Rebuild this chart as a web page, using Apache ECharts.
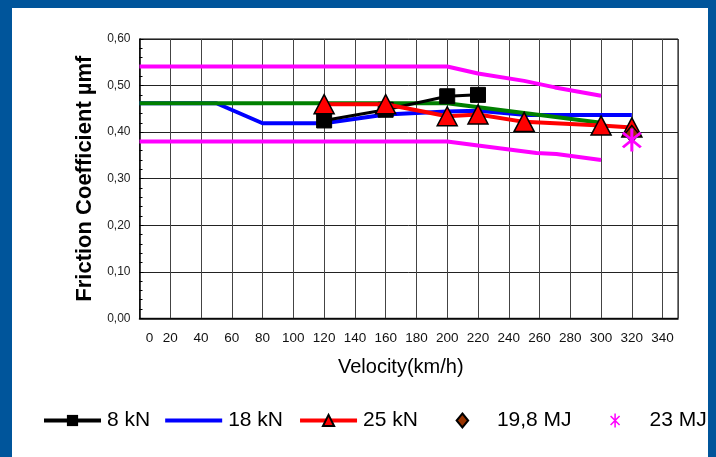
<!DOCTYPE html>
<html>
<head>
<meta charset="utf-8">
<script src="https://cdn.jsdelivr.net/npm/echarts@6/dist/echarts.min.js"></script>
<style>
  html, body { margin: 0; padding: 0; }
  #wrap { position: relative; width: 716px; height: 457px; background: #00559b; overflow: hidden; }
  #paper { position: absolute; left: 12px; top: 8px; width: 696px; height: 449px; background: #ffffff; }
  #chart { position: absolute; left: 0; top: 0; width: 716px; height: 457px; }
</style>
</head>
<body>
<div id="wrap"><div id="paper"></div><div id="chart"></div></div>
<script>
// ---- data (velocity km/h, friction coefficient) ----
const xTicks = [0, 20, 40, 60, 80, 100, 120, 140, 160, 180, 200, 220, 240, 260, 280, 300, 320, 340];
const yTicks = [0, 0.1, 0.2, 0.3, 0.4, 0.5, 0.6];

const upperBoundV = [0, 200, 220, 250, 270, 300];
const upperBoundMu = [0.541, 0.541, 0.526, 0.510, 0.496, 0.478];

const lowerBoundV = [0, 200, 220, 258, 271, 300];
const lowerBoundMu = [0.380, 0.380, 0.371, 0.355, 0.353, 0.340];

const nominalV = [0, 200, 300];
const nominalMu = [0.462, 0.462, 0.420];

const kN18V = [0, 50, 80, 120, 160, 200, 220, 250, 320];
const kN18Mu = [0.462, 0.462, 0.419, 0.419, 0.438, 0.444, 0.446, 0.437, 0.437];

const kN8V = [120, 160, 200, 220];
const kN8Mu = [0.425, 0.448, 0.477, 0.480];

const kN25V = [120, 160, 200, 220, 250, 300, 320];
const kN25Mu = [0.460, 0.460, 0.434, 0.438, 0.422, 0.414, 0.410];

const mj198V = [320];
const mj198Mu = [0.396];

const mj23V = [320];
const mj23Mu = [0.383];

const legendNames = ['8 kN', '18 kN', '25 kN', '19,8 MJ', '23 MJ'];

const zip = (xs, ys) => xs.map((x, i) => [x, ys[i]]);

const asteriskBody = 'M6.22,7.92 L7.92,6.22 L-6.22,-7.92 L-7.92,-6.22 Z ' +
                     'M7.92,-6.22 L6.22,-7.92 L-7.92,6.22 L-6.22,7.92 Z ' +
                     'M-1.2,-11 L-1.2,11 L1.2,11 L1.2,-11 Z';
const diamondBody = 'M0,-8.5 L7,0 L0,8.5 L-7,0 Z';
const asterisk = 'path://' + asteriskBody;
const diamond = 'path://' + diamondBody;
// legend icons: widened bounding box so the mark sits centred in the 57px slot
const diamondLegend = 'path://M-34.6,-8.5 M34.6,8.5 ' + diamondBody;
const asteriskLegend = 'path://M-44.8,-11 M44.8,11 ' + asteriskBody;
const barIcon = 'path://M0,0 L57,0 L57,4 L0,4 Z';

const chart = echarts.init(document.getElementById('chart'), null, { renderer: 'canvas' });
const FONT = 'Liberation Sans, Arial, sans-serif';

chart.setOption({
  backgroundColor: 'transparent',
  animation: false,
  textStyle: { fontFamily: FONT },
  grid: {
    left: 139.5, top: 39, right: 38, bottom: 138.7,
    show: true, borderColor: '#000', borderWidth: 1, backgroundColor: 'transparent'
  },
  legend: {
    left: 42, top: 410, padding: 0,
    itemWidth: 57, itemHeight: 14, itemGap: 15,
    lineStyle: { width: 4 },
    textStyle: { fontSize: 21, color: '#000', fontFamily: FONT, padding: [0, 0, 0, 1] },
    data: [
      { name: legendNames[0] },
      { name: legendNames[1], icon: barIcon },
      { name: legendNames[2] },
      { name: legendNames[3], icon: diamondLegend },
      { name: legendNames[4], icon: asteriskLegend }
    ]
  },
  xAxis: {
    type: 'value', min: 0, max: 350, interval: 20,
    name: 'Velocity(km/h)', nameLocation: 'middle', nameGap: 39,
    nameTextStyle: { fontSize: 20, color: '#000', padding: [0, 16, 0, 0] },
    axisLine: { show: true, lineStyle: { color: '#000', width: 1.5 } },
    axisTick: { show: false },
    axisLabel: {
      showMaxLabel: false, fontSize: 13.5, color: '#111', margin: 13,
      formatter: v => (v === 0 ? '{z|0}' : String(v)),
      rich: { z: { fontSize: 13.5, color: '#111', padding: [0, 0, 0, 20] } }
    },
    splitLine: { show: true, lineStyle: { color: '#444', width: 1 } }
  },
  yAxis: {
    type: 'value', min: 0, max: 0.6, interval: 0.1,
    name: 'Friction Coefficient µmf', nameLocation: 'middle', nameGap: 44,
    nameTextStyle: { fontSize: 22, fontWeight: 'bold', color: '#000' },
    axisLine: { show: true, lineStyle: { color: '#000', width: 1.5 } },
    axisTick: { show: true, inside: true, length: 4, lineStyle: { color: '#000' } },
    minorTick: { show: true, splitNumber: 5, length: 3, lineStyle: { color: '#000' } },
    axisLabel: {
      fontSize: 12, color: '#222', margin: 9,
      formatter: v => v.toFixed(2).replace('.', ',')
    },
    splitLine: { show: true, lineStyle: { color: '#222', width: 1 } }
  },
  series: [
    { name: 'upper', type: 'line', data: zip(upperBoundV, upperBoundMu), symbol: 'none',
      lineStyle: { color: '#ff00ff', width: 4 }, itemStyle: { color: '#ff00ff' }, z: 2 },
    { name: 'lower', type: 'line', data: zip(lowerBoundV, lowerBoundMu), symbol: 'none',
      lineStyle: { color: '#ff00ff', width: 4 }, itemStyle: { color: '#ff00ff' }, z: 2 },
    { name: legendNames[1], type: 'line', data: zip(kN18V, kN18Mu), symbol: 'none',
      lineStyle: { color: '#0000ff', width: 4 }, itemStyle: { color: '#0000ff' }, z: 3 },
    { name: 'nominal', type: 'line', data: zip(nominalV, nominalMu), symbol: 'none',
      lineStyle: { color: '#008000', width: 4 }, itemStyle: { color: '#008000' }, z: 4 },
    { name: legendNames[0], type: 'line', data: zip(kN8V, kN8Mu), symbol: 'rect', symbolSize: 15,
      showAllSymbol: true,
      lineStyle: { color: '#000', width: 3 }, itemStyle: { color: '#000', borderColor: '#000' }, z: 5 },
    { name: legendNames[2], type: 'line', data: zip(kN25V, kN25Mu), symbol: 'triangle', symbolSize: [20, 19],
      showAllSymbol: true,
      lineStyle: { color: '#ff0000', width: 4 },
      itemStyle: { color: '#ff0000', borderColor: '#000', borderWidth: 1.5 }, z: 6 },
    { name: legendNames[3], type: 'scatter', data: zip(mj198V, mj198Mu), symbol: diamond, symbolSize: [14, 17],
      itemStyle: { color: '#993300', borderColor: '#000', borderWidth: 1.5, opacity: 1 }, z: 7 },
    { name: legendNames[4], type: 'scatter', data: zip(mj23V, mj23Mu), symbol: asterisk, symbolSize: [20, 23],
      itemStyle: { color: '#ff00ff', opacity: 1 }, z: 8 }
  ]
});
</script>
</body>
</html>
